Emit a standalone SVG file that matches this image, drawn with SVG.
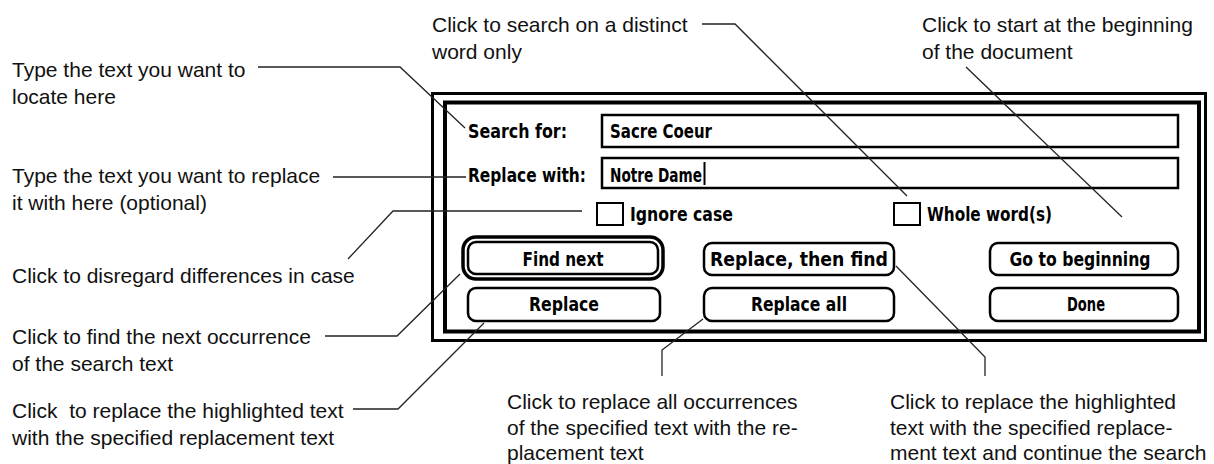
<svg xmlns="http://www.w3.org/2000/svg" width="1214" height="464" viewBox="0 0 1214 464">
<style>
.note{font-family:"Liberation Sans",Arial,sans-serif;font-size:21px;fill:#111}
.ui{font-family:"DejaVu Sans Condensed","DejaVu Sans",sans-serif;font-size:19px;font-weight:bold;fill:#000}
.frame{fill:none;stroke:#000}
.field{fill:#fff;stroke:#000;stroke-width:2.5}
.btn{fill:#fff;stroke:#000;stroke-width:2.5}
.box{fill:#fff;stroke:#000;stroke-width:2}
.conn{fill:none;stroke:#222;stroke-width:1.3}
</style>
<rect width="1214" height="464" fill="#fff"/>
<g id="dialog">
<rect class="frame" x="432.5" y="93.5" width="773" height="247" stroke-width="3"/>
<rect class="frame" x="445" y="102.5" width="754" height="229" stroke-width="4"/>
</g>
<g id="search-for">
<text class="ui" x="468" y="138" textLength="99" lengthAdjust="spacingAndGlyphs">Search for:</text>
<rect class="field" x="602" y="115" width="576" height="32"/>
<text class="ui" x="610" y="138" textLength="102" lengthAdjust="spacingAndGlyphs">Sacre Coeur</text>
</g>
<g id="replace-with">
<text class="ui" x="468" y="182" textLength="118" lengthAdjust="spacingAndGlyphs">Replace with:</text>
<rect class="field" x="602" y="158" width="576" height="30"/>
<text class="ui" x="610" y="182" textLength="92" lengthAdjust="spacingAndGlyphs">Notre Dame</text>
<line x1="704.5" y1="162" x2="704.5" y2="185" stroke="#000" stroke-width="2"/>
</g>
<g id="ignore-case">
<rect class="box" x="597" y="203" width="26" height="22"/>
<text class="ui" x="630" y="221" textLength="103" lengthAdjust="spacingAndGlyphs">Ignore case</text>
</g>
<g id="whole-word">
<rect class="box" x="894" y="203" width="26" height="22"/>
<text class="ui" x="927" y="221" textLength="125" lengthAdjust="spacingAndGlyphs">Whole word(s)</text>
</g>
<g id="find-next">
<rect x="463" y="237" width="200" height="42" rx="13" fill="none" stroke="#000" stroke-width="3.5"/>
<rect class="btn" x="468" y="242" width="190" height="32" rx="8"/>
<text class="ui" x="563" y="266" text-anchor="middle" textLength="81" lengthAdjust="spacingAndGlyphs">Find next</text>
</g>
<g id="replace">
<rect class="btn" x="468" y="288" width="192" height="33" rx="8"/>
<text class="ui" x="564" y="311" text-anchor="middle" textLength="70" lengthAdjust="spacingAndGlyphs">Replace</text>
</g>
<g id="replace-then-find">
<rect class="btn" x="704" y="243" width="190" height="32" rx="8"/>
<text class="ui" x="799" y="266" text-anchor="middle" textLength="178" lengthAdjust="spacingAndGlyphs">Replace, then find</text>
</g>
<g id="replace-all">
<rect class="btn" x="704" y="288" width="190" height="33" rx="8"/>
<text class="ui" x="799" y="311" text-anchor="middle" textLength="96" lengthAdjust="spacingAndGlyphs">Replace all</text>
</g>
<g id="go-to-beginning">
<rect class="btn" x="990" y="243" width="188" height="32" rx="8"/>
<text class="ui" x="1080" y="266" text-anchor="middle" textLength="141" lengthAdjust="spacingAndGlyphs">Go to beginning</text>
</g>
<g id="done">
<rect class="btn" x="990" y="288" width="188" height="33" rx="8"/>
<text class="ui" x="1086" y="311" text-anchor="middle" textLength="38" lengthAdjust="spacingAndGlyphs">Done</text>
</g>
<g id="note-search">
<text class="note" x="12" y="77">Type the text you want to</text>
<text class="note" x="12" y="104">locate here</text>
</g>
<g id="note-replace">
<text class="note" x="12" y="183">Type the text you want to replace</text>
<text class="note" x="12" y="210">it with here (optional)</text>
</g>
<g id="note-ignore">
<text class="note" x="12" y="283">Click to disregard differences in case</text>
</g>
<g id="note-find">
<text class="note" x="12" y="344">Click to find the next occurrence</text>
<text class="note" x="12" y="371">of the search text</text>
</g>
<g id="note-replace-btn">
<text class="note" x="12" y="418" xml:space="preserve">Click  to replace the highlighted text</text>
<text class="note" x="12" y="445">with the specified replacement text</text>
</g>
<g id="note-whole">
<text class="note" x="432" y="32">Click to search on a distinct</text>
<text class="note" x="432" y="59">word only</text>
</g>
<g id="note-begin">
<text class="note" x="922" y="32">Click to start at the beginning</text>
<text class="note" x="922" y="59">of the document</text>
</g>
<g id="note-replace-all">
<text class="note" x="507" y="409">Click to replace all occurrences</text>
<text class="note" x="507" y="435">of the specified text with the re-</text>
<text class="note" x="507" y="460">placement text</text>
</g>
<g id="note-replace-find">
<text class="note" x="890" y="409">Click to replace the highlighted</text>
<text class="note" x="890" y="435">text with the specified replace-</text>
<text class="note" x="890" y="460">ment text and continue the search</text>
</g>
<g id="connectors">
<polyline class="conn" points="258,67 400,67 465,128"/>
<polyline class="conn" points="333,177 466,177"/>
<polyline class="conn" points="348,259 393,211 582,211"/>
<polyline class="conn" points="325,336 397,336 460,274"/>
<polyline class="conn" points="353,409 398,409 484,323"/>
<polyline class="conn" points="703,319 662,350 662,376"/>
<polyline class="conn" points="896,266 985,357 985,376"/>
<polyline class="conn" points="702,24 735,24 907,196"/>
<polyline class="conn" points="966,67 1122,217"/>
</g>
</svg>
